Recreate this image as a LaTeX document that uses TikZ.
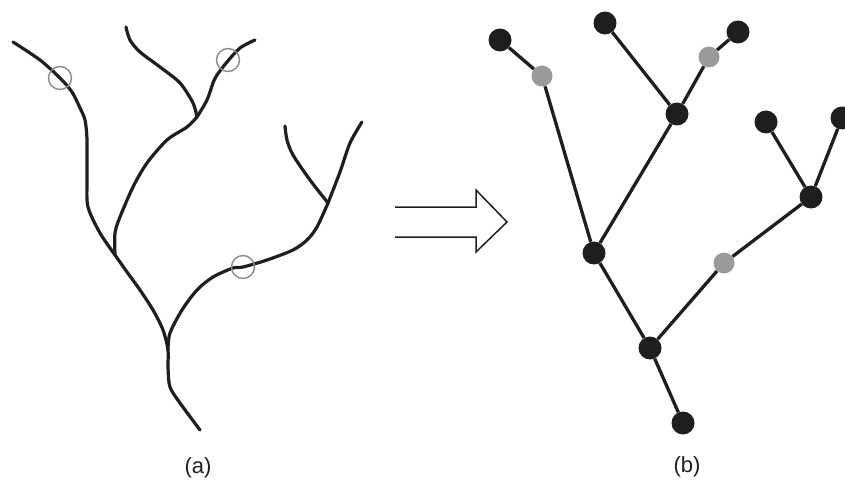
\documentclass[tikz,border=0pt]{standalone}
\usepackage{fontspec}
\setmainfont{Liberation Sans}
\definecolor{ink}{HTML}{1E1E1E}
\definecolor{greynode}{HTML}{9A9A9A}
\definecolor{ringgrey}{HTML}{8A8A8A}
\tikzset{
  branch/.style={draw=ink, line width=3.2pt, line cap=round, line join=round},
  ring/.style={draw=ringgrey, line width=1.4pt},
  bnode/.style={circle, fill=ink, inner sep=0pt, minimum size=23pt},
  gnode/.style={circle, fill=greynode, inner sep=0pt, minimum size=21pt},
  edge/.style={draw=ink, line width=3.3pt},
  bigarrow/.style={draw=ink, line width=1.5pt, line join=miter},
  caption/.style={font=\fontsize{22}{26}\selectfont, text=ink}
}
\begin{document}
\begin{tikzpicture}[x=1pt,y=-1pt]
\useasboundingbox (0,0) rectangle (845,481);
\clip (0,0) rectangle (845,481);
% ---------- (a) traced tree ----------
\draw[branch] plot[smooth, tension=0.5] coordinates {(200,430) (180,403) (170,387) (168,367) (168,350) (163,330) (153,310) (140,290) (127,272) (115,255)};
\draw[branch] plot[smooth, tension=0.5] coordinates {(115,255) (100,233) (88,207) (87,180) (87,140) (85,120) (80,108) (72,92) (60,78) (40,60) (13,42)};
\draw[branch] plot[smooth, tension=0.5] coordinates {(115,255) (115,233) (120,217) (133,187) (147,163) (167,140) (187,127) (197,117)};
\draw[branch] plot[smooth, tension=0.5] coordinates {(197,117) (193,103) (180,83) (160,67) (140,52) (130,40) (126,27)};
\draw[branch] plot[smooth, tension=0.5] coordinates {(197,117) (207,100) (213,83) (217,75) (227,62) (240,48) (255,40)};
\draw[branch] plot[smooth, tension=0.5] coordinates {(168,350) (170,333) (182,310) (197,290) (213,277) (233,268) (243,267) (267,260) (293,250) (307,240) (317,227) (328,203)};
\draw[branch] plot[smooth, tension=0.5] coordinates {(328,203) (310,180) (293,155) (287,140) (285,126)};
\draw[branch] plot[smooth, tension=0.5] coordinates {(328,203) (340,172) (350,143) (362,122)};
\draw[ring] (60,78) circle[radius=11.5];
\draw[ring] (228,60) circle[radius=11.5];
\draw[ring] (243,267) circle[radius=11.5];
% ---------- hollow arrow ----------
\draw[bigarrow] (395,207) -- (476,207) -- (476,190) -- (507,222) -- (476,252) -- (476,237) -- (395,237);
% ---------- (b) graph ----------
\node[bnode] (n1) at (500,40) {};
\node[gnode] (g1) at (542,76) {};
\node[bnode] (n2) at (605,23) {};
\node[bnode] (n3) at (738,32) {};
\node[gnode] (g2) at (709,57) {};
\node[bnode] (j1) at (677,114) {};
\node[bnode] (n4) at (766,122) {};
\node[bnode] (n5) at (842,118) {};
\node[bnode] (j2) at (811,197) {};
\node[bnode] (j3) at (594,253) {};
\node[gnode] (g3) at (724,263) {};
\node[bnode] (j4) at (650,348) {};
\node[bnode] (n6) at (683,423) {};
\draw[edge] (n1) -- (g1);
\draw[edge] (g1) -- (j3);
\draw[edge] (n2) -- (j1);
\draw[edge] (j1) -- (g2);
\draw[edge] (g2) -- (n3);
\draw[edge] (j1) -- (j3);
\draw[edge] (j3) -- (j4);
\draw[edge] (j4) -- (n6);
\draw[edge] (j4) -- (g3);
\draw[edge] (g3) -- (j2);
\draw[edge] (j2) -- (n4);
\draw[edge] (j2) -- (n5);
% ---------- captions ----------
\node[caption] (capa) at (198,468) {(a)};
\node[caption] (capb) at (687,467) {(b)};
\end{tikzpicture}
\end{document}
